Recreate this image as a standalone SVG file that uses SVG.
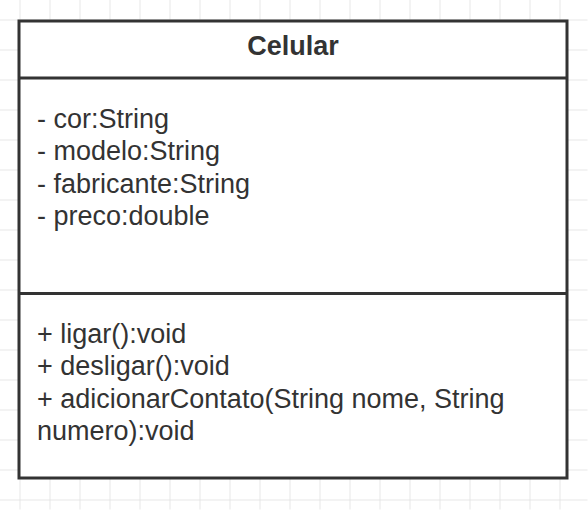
<svg xmlns="http://www.w3.org/2000/svg" width="588" height="510" viewBox="0 0 588 510">
  <defs>
    <pattern id="grid" x="20" y="20" width="30" height="30" patternUnits="userSpaceOnUse">
      <path d="M 0 0.5 H 30 M 0.5 0 V 30" fill="none" stroke="#e6e6e6" stroke-width="1"/>
    </pattern>
  </defs>
  <style>
    .box { fill: #ffffff; stroke: #333333; stroke-width: 3; }
    .line { stroke: #333333; stroke-width: 3; fill: none; }
    .t { font-family: "Liberation Sans", Arial, sans-serif; font-size: 27px; fill: #333333; }
    .title { font-weight: bold; text-anchor: middle; }
  </style>
  <rect x="0" y="0" width="588" height="510" fill="#ffffff"/>
  <rect x="0" y="0" width="588" height="510" fill="url(#grid)" transform="translate(-0.5,-0.5)"/>
  <g id="node-celular">
    <rect class="box" x="19" y="21" width="548" height="457"/>
    <line class="line" x1="19" y1="78" x2="567" y2="78"/>
    <line class="line" x1="19" y1="293.5" x2="567" y2="293.5"/>
    <text class="t title" x="293" y="55">Celular</text>
    <g id="attributes">
      <text class="t" x="37" y="128">- cor:String</text>
      <text class="t" x="37" y="160.4">- modelo:String</text>
      <text class="t" x="37" y="192.8">- fabricante:String</text>
      <text class="t" x="37" y="225.2">- preco:double</text>
    </g>
    <g id="methods">
      <text class="t" x="37" y="343">+ ligar():void</text>
      <text class="t" x="37" y="375.4">+ desligar():void</text>
      <text class="t" x="37" y="407.8">+ adicionarContato(String nome, String</text>
      <text class="t" x="37" y="440.2">numero):void</text>
    </g>
  </g>
  <g id="connectors"></g>
</svg>
